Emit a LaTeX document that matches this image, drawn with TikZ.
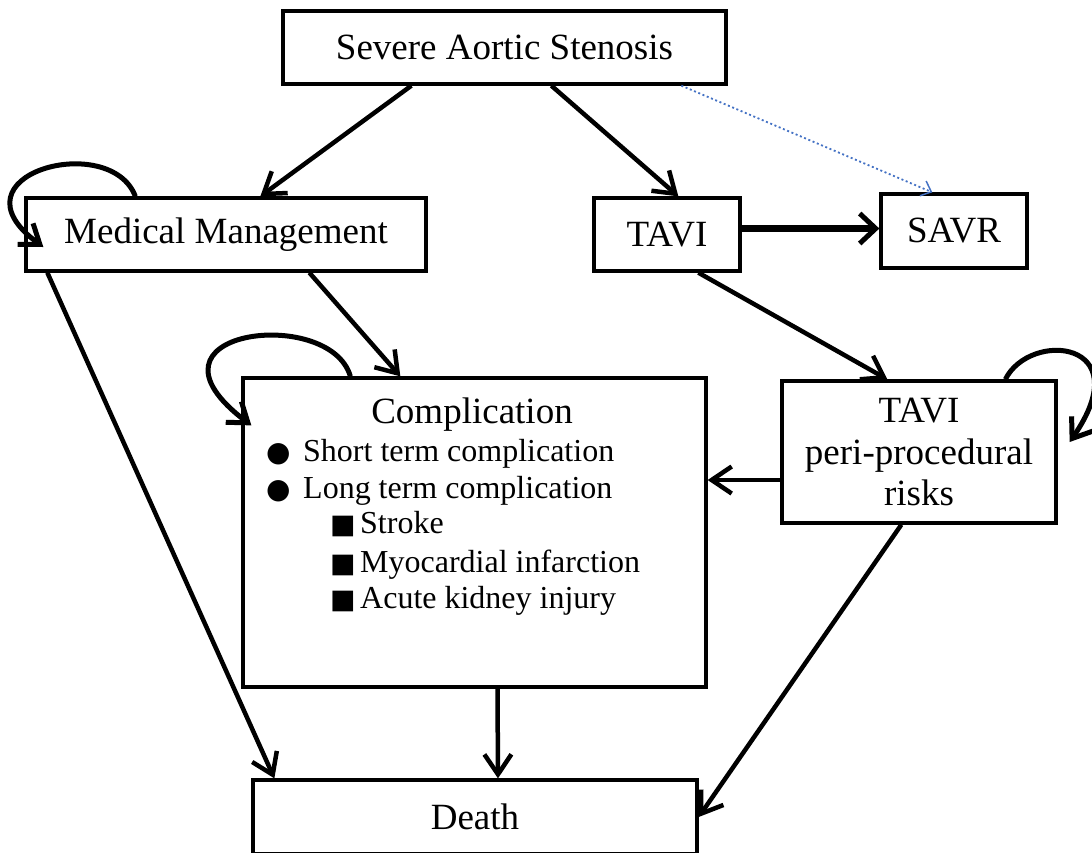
\documentclass[tikz,border=0pt]{standalone}
\usepackage{fontspec}
\setmainfont{Liberation Serif}
\newfontfamily\symfont{DejaVu Sans}
\usetikzlibrary{arrows.meta}
\definecolor{optblue}{RGB}{68,114,196}

\begin{document}
\begin{tikzpicture}[x=1pt,y=-1pt,
	box/.style={draw, line width=3.3pt, inner sep=0pt, align=center, font=\fontsize{37}{41.5}\selectfont},
	flow/.style={line width=4.5pt, -{Straight Barb[length=20pt,width=27pt]}},
	loopflow/.style={line width=5pt, -{Straight Barb[length=18pt,width=26pt]}},
	item/.style={anchor=base west, inner sep=0pt, font=\fontsize{32}{38}\selectfont}]
	\useasboundingbox (0,0) rectangle (1092,852);
	\clip (0,0) rectangle (1092,852);

	\node[box, minimum width=443pt, minimum height=73pt] (sev) at (504.5,47.5) {Severe Aortic Stenosis};
	\node[box, minimum width=400pt, minimum height=73pt] (mm) at (226,234.5) {Medical Management};
	\node[box, minimum width=146pt, minimum height=73pt] (tavi) at (667,234.5) {TAVI};
	\node[box, minimum width=146pt, minimum height=74pt] (savr) at (954,231) {SAVR};
	\node[box, minimum width=463pt, minimum height=309pt] (comp) at (474.5,532.5) {};
	\node[box, minimum width=274pt, minimum height=142pt] (peri) at (919,452) {TAVI\\peri-procedural\\risks};
	\node[box, minimum width=444pt, minimum height=74pt] (death) at (475,817) {Death};

	\node[anchor=base, inner sep=0pt, font=\fontsize{37}{41.5}\selectfont] (ctitle) at (472,423) {Complication};
	\node[item] (c1) at (266,461) {\makebox[37pt][l]{\symfont\fontsize{28}{30}\selectfont ●}Short term complication};
	\node[item] (c2) at (266,498) {\makebox[37pt][l]{\symfont\fontsize{28}{30}\selectfont ●}Long term complication};
	\node[item] (c3) at (330,533) {\makebox[30pt][l]{\symfont\fontsize{27}{30}\selectfont ■}Stroke};
	\node[item] (c4) at (330,572) {\makebox[30pt][l]{\symfont\fontsize{27}{30}\selectfont ■}Myocardial infarction};
	\node[item] (c5) at (330,608) {\makebox[30pt][l]{\symfont\fontsize{27}{30}\selectfont ■}Acute kidney injury};

	\draw[flow] ([xshift=130pt]sev.south west) -- ([xshift=236pt]mm.north west);
	\draw[flow] ([xshift=270pt]sev.south west) -- ([xshift=86pt]tavi.north west);
	\draw[optblue, line width=1.8pt, dash pattern=on 2pt off 2.6pt, -{Straight Barb[length=9pt,width=16pt,line width=1.5pt]}]
		([xshift=400pt]sev.south west) -- ([xshift=53pt]savr.north west);
	\draw[line width=6.5pt, -{Straight Barb[length=16pt,width=30pt,line width=5pt]}]
		([yshift=6pt]tavi.east) -- ([yshift=6pt]tavi.east -| savr.west);
	\draw[flow] ([xshift=23pt]mm.south west) -- ([xshift=23pt]death.north west);
	\draw[flow] ([xshift=285pt]mm.south west) -- ([xshift=159pt]comp.north west);
	\draw[flow] ([xshift=106pt]tavi.south west) -- ([xshift=107pt]peri.north west);
	\draw[flow] ([yshift=-28pt]peri.west) -- ([yshift=-28pt]peri.west -| comp.east);
	\draw[flow] ([xshift=23pt]comp.south) -- ([xshift=23pt]death.north);
	\draw[flow] ([xshift=121pt]peri.south west) -- (death.east);

	\draw[loopflow] ([xshift=111pt]mm.north west) .. controls (110,130) and (-55,175) .. ([xshift=19pt,yshift=-12.5pt]mm.west);
	\draw[loopflow] ([xshift=109pt]comp.north west) .. controls (330,305) and (125,330) .. ([xshift=10pt,yshift=-49pt]comp.north west);
	\draw[loopflow] ([xshift=225pt]peri.north west) .. controls (1030,330) and (1140,340) .. ([xshift=12pt,yshift=10pt]peri.east);
\end{tikzpicture}
\end{document}
